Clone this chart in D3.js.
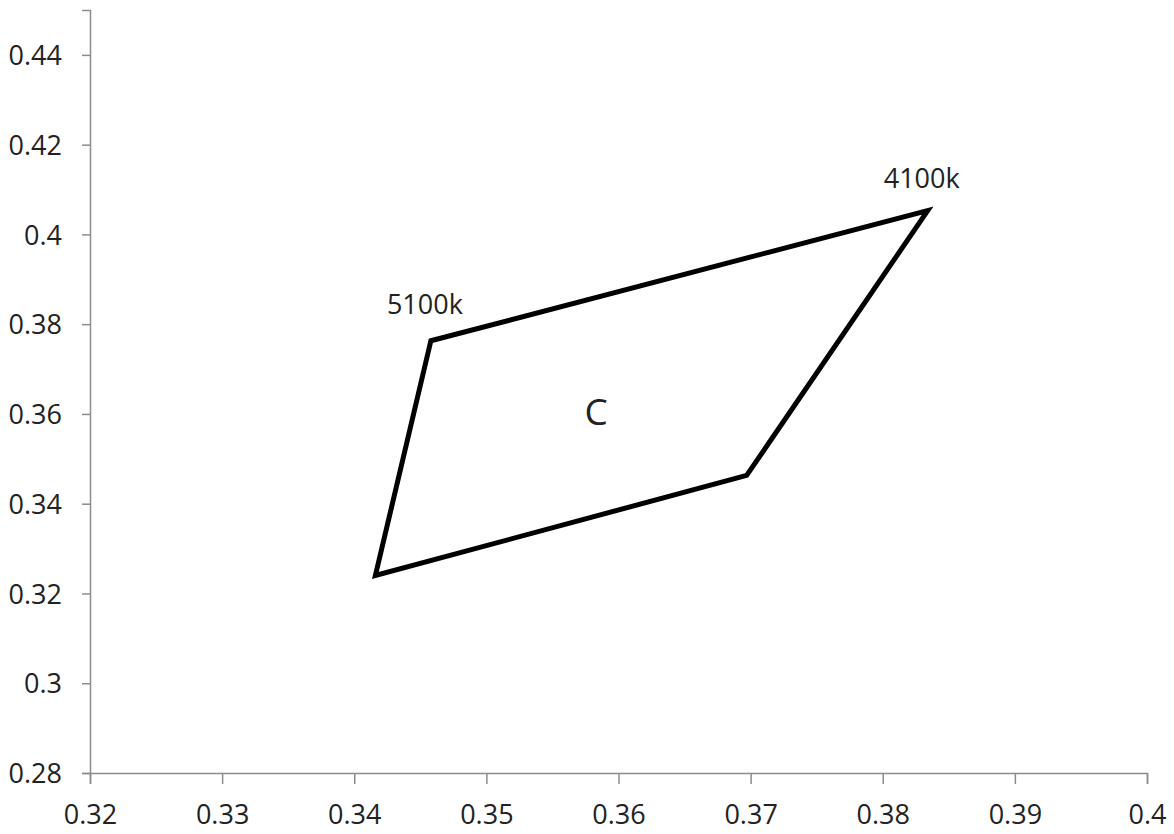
<!DOCTYPE html>
<html>
<head>
<meta charset="utf-8">
<script src="https://cdn.jsdelivr.net/npm/d3@7"></script>
<style>
  body { margin: 0; background: #fff; }
  text { font-family: "Open Sans", sans-serif; fill: #222; }
</style>
</head>
<body>
<div id="chart"></div>
<script>
// quadrangle corners (chromaticity x, y), drawn as a closed loop
var cornerX = [0.3458, 0.3834, 0.3697, 0.3416];
var cornerY = [0.3763, 0.4053, 0.3463, 0.3240];
var pointLabels = ["5100k", "4100k", "", ""];
var regionLabel = { text: "C", x: 0.3583, y: 0.3576 };
var xTicks = [0.32, 0.33, 0.34, 0.35, 0.36, 0.37, 0.38, 0.39, 0.4];
var yTicks = [0.28, 0.3, 0.32, 0.34, 0.36, 0.38, 0.4, 0.42, 0.44];

var width = 1174, height = 834;
var margin = { top: 10, right: 27, bottom: 61, left: 90 };
var w = width - margin.left - margin.right;
var h = height - margin.top - margin.bottom;

var svg = d3.select("#chart").append("svg")
    .attr("width", width)
    .attr("height", height);
var g = svg.append("g")
    .attr("transform", "translate(" + margin.left + "," + margin.top + ")");

var x = d3.scaleLinear().domain([0.32, 0.4]).range([0, w]);
var y = d3.scaleLinear().domain([0.28, 0.45]).range([h, 0]);

var fmt = function (d) { return d3.format("")(+d.toFixed(2)); };

var xAxis = g.append("g")
    .attr("transform", "translate(0," + h + ")")
    .call(d3.axisBottom(x).tickValues(xTicks).tickFormat(fmt).tickSize(11).tickPadding(21));
var yAxis = g.append("g")
    .call(d3.axisLeft(y).tickValues(yTicks).tickFormat(fmt).tickSize(8).tickPadding(20));

[xAxis, yAxis].forEach(function (a) {
  a.select(".domain").attr("stroke", "#8c8c8c").attr("stroke-width", 1.5);
  a.selectAll(".tick line").attr("stroke", "#8c8c8c").attr("stroke-width", 1.5);
  a.selectAll(".tick text").style("font-size", "27px").attr("fill", "#222");
});
yAxis.selectAll(".tick text").attr("dy", "0.36em");

var pts = cornerX.map(function (cx, i) { return [cx, cornerY[i]]; });
var line = d3.line()
    .x(function (d) { return x(d[0]); })
    .y(function (d) { return y(d[1]); })
    .curve(d3.curveLinearClosed);

g.append("path")
    .datum(pts)
    .attr("d", line)
    .attr("fill", "none")
    .attr("stroke", "#000")
    .attr("stroke-width", 5)
    .attr("stroke-linejoin", "miter");

g.selectAll(".pt-label")
    .data(pts.filter(function (d, i) { return pointLabels[i]; }))
    .enter().append("text")
    .attr("class", "pt-label")
    .attr("x", function (d) { return x(d[0]) - 6; })
    .attr("y", function (d, i) { return y(d[1]) - (i === 0 ? 27 : 23); })
    .attr("text-anchor", "middle")
    .style("font-size", "27px")
    .text(function (d, i) { return pointLabels[i]; });

g.append("text")
    .attr("x", x(regionLabel.x))
    .attr("y", y(regionLabel.y))
    .attr("text-anchor", "middle")
    .style("font-size", "37px")
    .text(regionLabel.text);
</script>
</body>
</html>
